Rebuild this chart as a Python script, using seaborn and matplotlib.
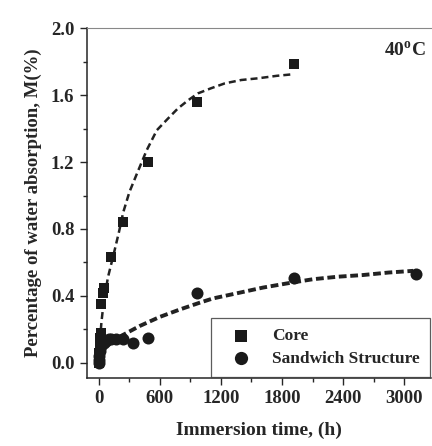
import matplotlib
matplotlib.use("Agg")
import matplotlib.pyplot as plt
from matplotlib.ticker import MultipleLocator
import seaborn as sns
import pandas as pd

core_t = [0, 2, 4, 6, 8, 12, 16, 20, 24, 40, 48, 120, 240, 480, 960, 1920]
core_m = [0.0, 0.02, 0.04, 0.06, 0.09, 0.12, 0.15, 0.18, 0.35, 0.42, 0.45, 0.63, 0.84, 1.20, 1.56, 1.785]

sand_t = [0, 2, 5, 10, 24, 48, 72, 96, 120, 168, 240, 336, 480, 960, 1920, 3120]
sand_m = [0.0, 0.02, 0.04, 0.07, 0.10, 0.12, 0.13, 0.14, 0.14, 0.14, 0.14, 0.12, 0.15, 0.42, 0.51, 0.53]

# courbes d'ajustement
core_fit_t = [0, 10, 25, 45, 89, 150, 197, 240, 300, 374, 470, 570, 680, 777, 880, 974, 1100, 1239, 1400, 1564, 1750, 1920]
core_fit_m = [0.0, 0.12, 0.24, 0.35, 0.51, 0.66, 0.78, 0.90, 1.02, 1.13, 1.27, 1.39, 1.46, 1.52, 1.57, 1.61, 1.64, 1.67, 1.69, 1.70, 1.715, 1.725]

sand_fit_t = [200, 400, 600, 800, 993, 1121, 1387, 1613, 1850, 2105, 2350, 2597, 2850, 3089]
sand_fit_m = [0.155, 0.22, 0.275, 0.32, 0.36, 0.385, 0.42, 0.45, 0.475, 0.50, 0.515, 0.525, 0.54, 0.55]

y_ticks = [0.0, 0.4, 0.8, 1.2, 1.6, 2.0]
x_ticks = [0, 600, 1200, 1800, 2400, 3000]

sns.set_style("ticks")
plt.rcParams['font.family'] = ['Liberation Serif', 'DejaVu Serif']
plt.rcParams['font.weight'] = 'bold'
plt.rcParams['mathtext.fontset'] = 'custom'
plt.rcParams['mathtext.rm'] = 'Liberation Serif:bold'

fig = plt.figure(figsize=(4.32, 4.46), dpi=100)
ax = fig.add_axes([0.201, 0.1525, 0.797, 0.7845])

df_core = pd.DataFrame({"t": core_t, "m": core_m})
df_sand = pd.DataFrame({"t": sand_t, "m": sand_m})

sns.lineplot(x=core_fit_t, y=core_fit_m, ax=ax, color="#222222", linestyle=(0, (2.8, 1.6)),
             linewidth=1.8, sort=False)
sns.lineplot(x=sand_fit_t, y=sand_fit_m, ax=ax, color="#222222", linestyle=(0, (2.0, 0.95)),
             linewidth=2.8, sort=False)

sns.scatterplot(data=df_core, x="t", y="m", ax=ax, marker="s", s=55, color="#1a1a1a",
                edgecolor="#1a1a1a", linewidth=0, label="Core", zorder=3)
sns.scatterplot(data=df_sand, x="t", y="m", ax=ax, marker="o", s=75, color="#1a1a1a",
                edgecolor="#1a1a1a", linewidth=0, label="Sandwich Structure", zorder=3)

ax.set_xticks(x_ticks, [str(v) for v in x_ticks], fontweight="bold")
ax.set_yticks(y_ticks, [f"{v:.1f}" for v in y_ticks], fontweight="bold")
ax.xaxis.set_minor_locator(MultipleLocator(300))
ax.yaxis.set_minor_locator(MultipleLocator(0.2))
ax.set_xlim(-118, 3266)
ax.set_ylim(-0.09, 2.0)
ax.tick_params(which="major", length=5, width=1, labelsize=13.5, direction="out", pad=4)
ax.tick_params(which="minor", length=3, width=1, direction="out")

ax.spines["right"].set_visible(False)
ax.spines["top"].set_color("#888888")
ax.spines["left"].set_linewidth(1.1)
ax.spines["bottom"].set_linewidth(1.1)

ax.set_xlabel("Immersion time, (h)", fontsize=14, fontweight="bold", labelpad=10)
ax.set_ylabel("Percentage of water absorption, M(%)", fontsize=13.5, fontweight="bold", labelpad=6)

ax.text(0.985, 0.935, r"40$^{\rm o}$C", transform=ax.transAxes, ha="right", va="center",
        fontsize=14, fontweight="bold")

leg = ax.legend(loc="lower right", bbox_to_anchor=(1.0, 0.0), fontsize=12.5, frameon=True,
                fancybox=False, borderpad=0.6, handletextpad=0.7, labelspacing=0.35,
                markerscale=1.1, borderaxespad=0.05, handlelength=2.2)
leg.get_frame().set_edgecolor("#333333")
leg.get_frame().set_linewidth(0.9)
for txt in leg.get_texts():
    txt.set_fontweight("bold")

fig.canvas.draw()
for lab in ax.get_xticklabels() + ax.get_yticklabels():
    lab.set_fontweight("bold")

fig.savefig("out.png", dpi=100)
